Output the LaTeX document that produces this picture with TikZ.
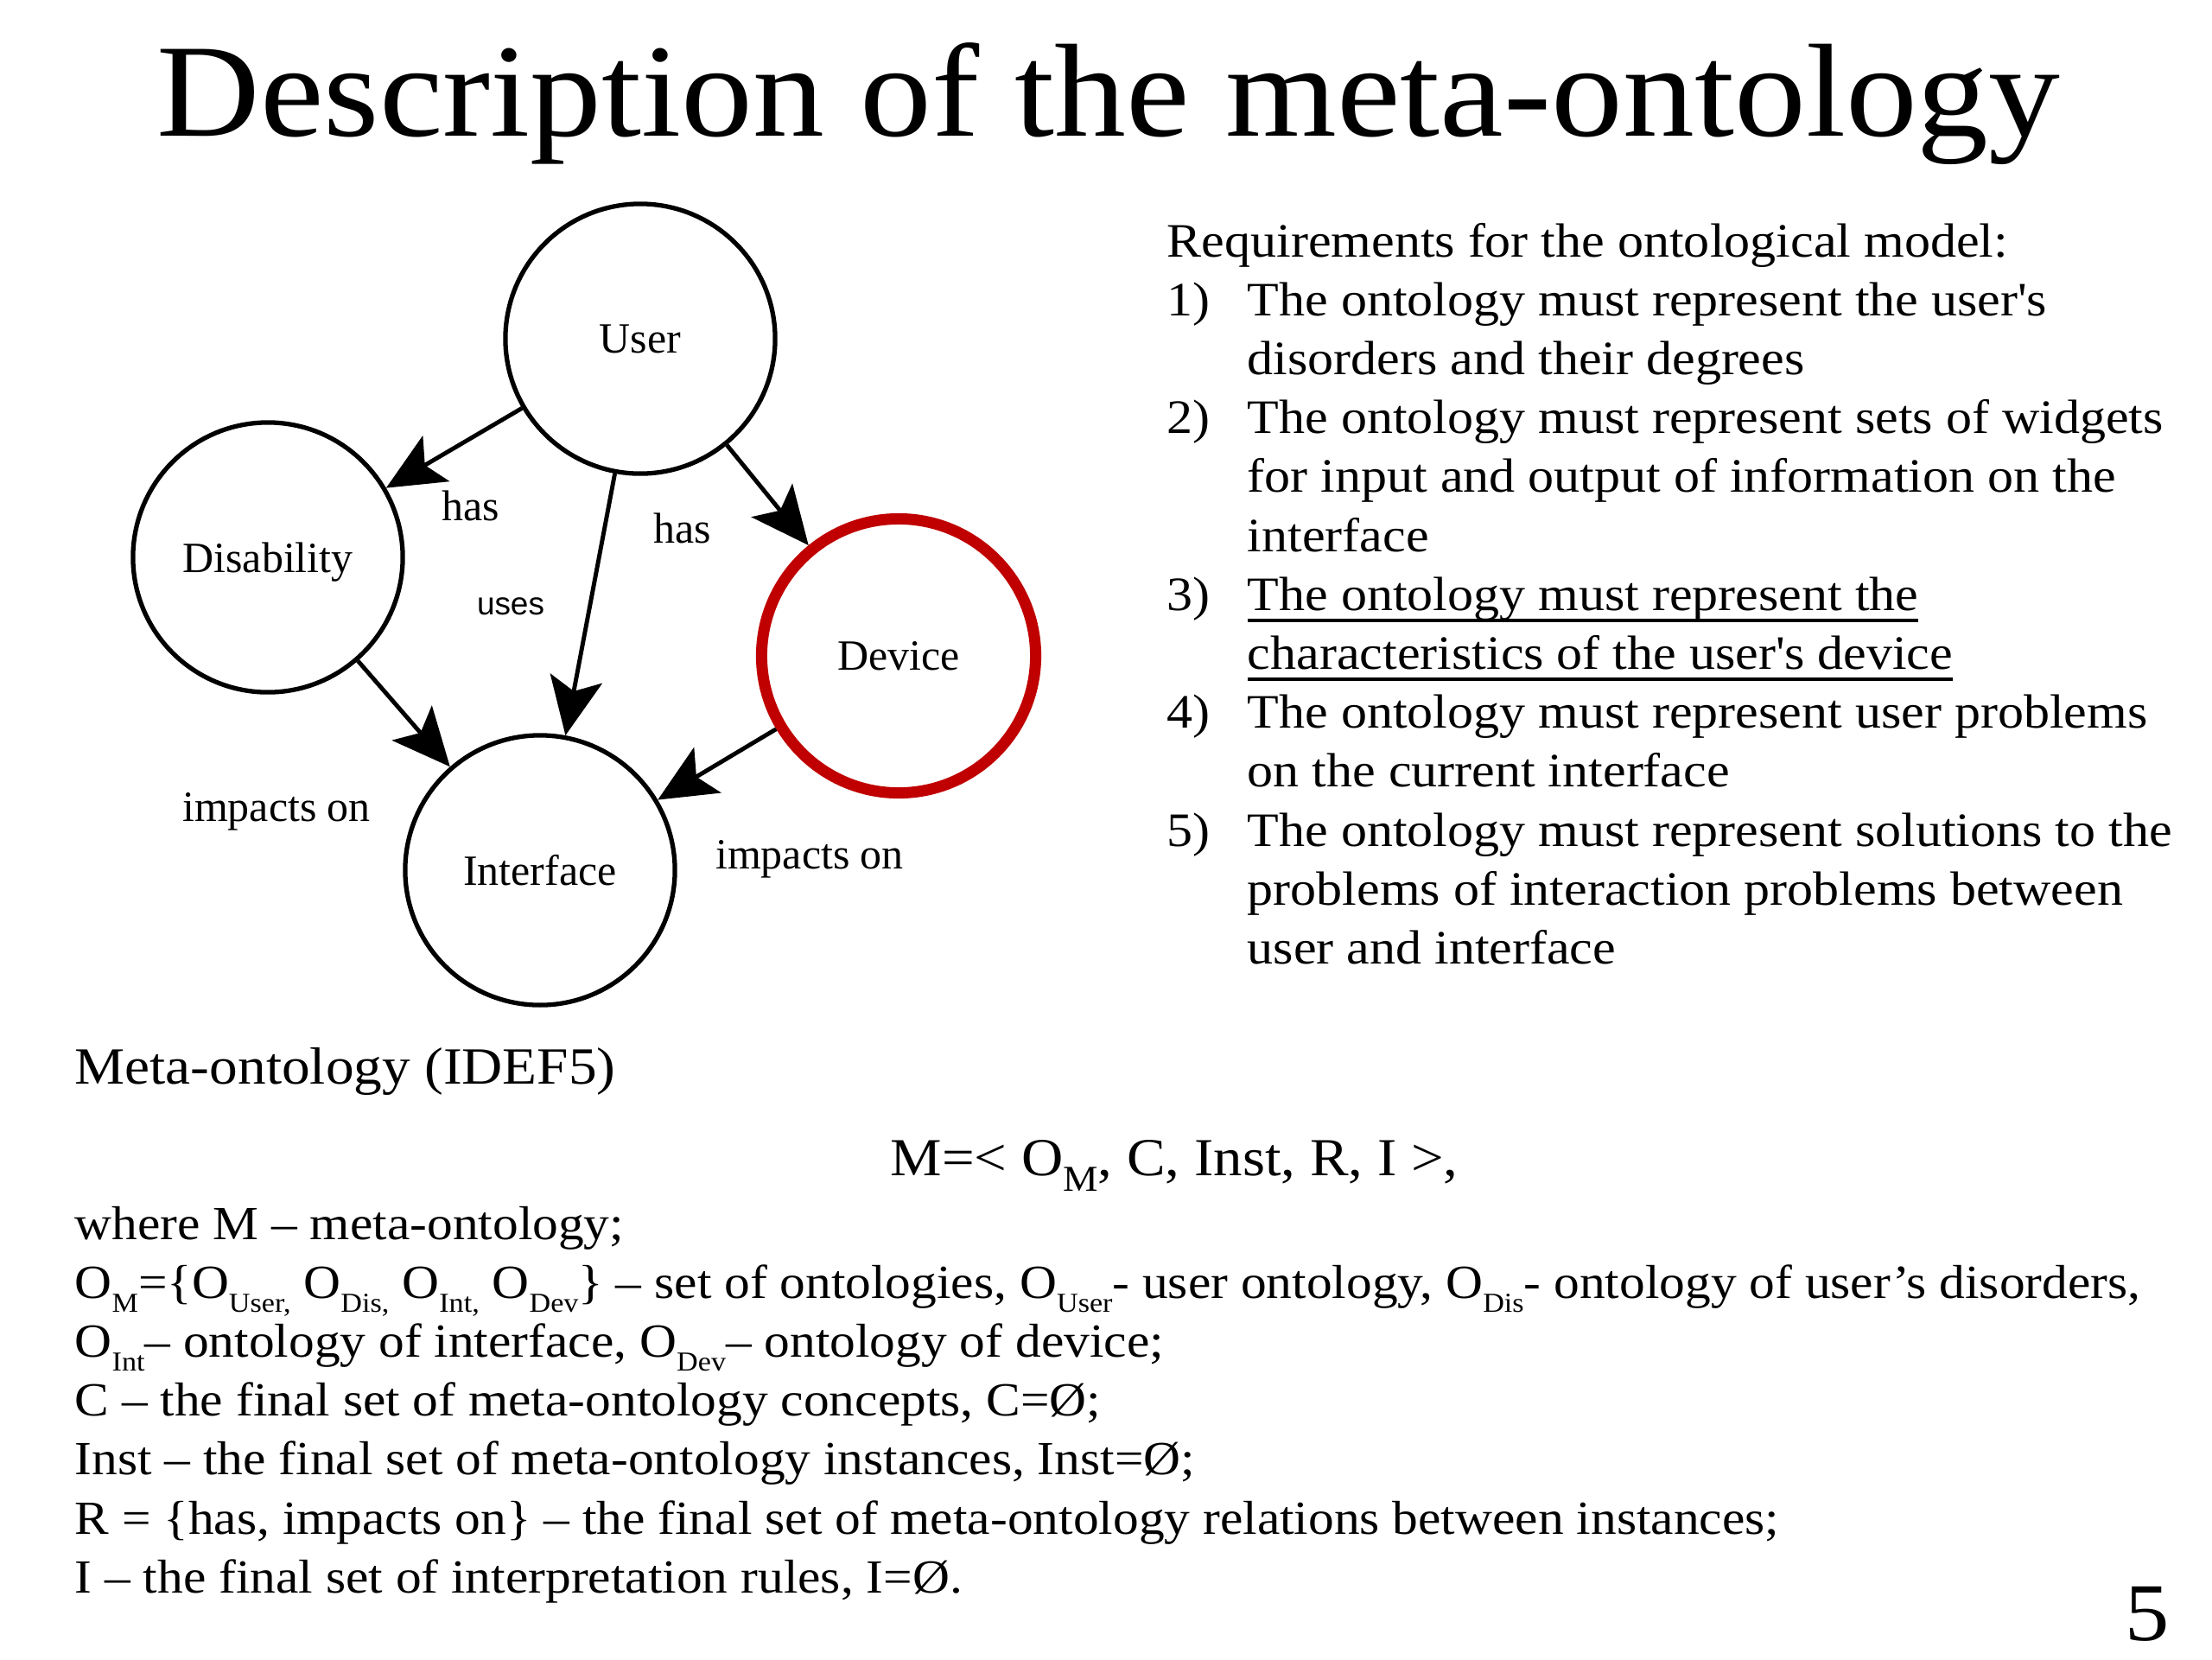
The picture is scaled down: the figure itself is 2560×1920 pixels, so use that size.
\documentclass[tikz,border=0pt]{standalone}
\usepackage{fontspec}
\setmainfont{Liberation Serif}[FakeStretch=1.08]
\newfontfamily\graphfont{Liberation Serif}
\newfontfamily\graphsans{Liberation Sans}
\usetikzlibrary{arrows.meta}
\definecolor{devred}{RGB}{192,0,0}
\newcommand{\ix}[1]{\raisebox{-0.3em}{\fontsize{9}{10}\selectfont #1}}
\newcommand{\itemno}[1]{\makebox[0.93cm][l]{#1}}
\newcommand{\uline}[1]{\setbox0\hbox{#1}\rlap{\rule[-0.25em]{\wd0}{1.1pt}}\box0}

\begin{document}
\begin{tikzpicture}[x=0.01cm,y=-0.01cm,>={Stealth[length=6.7mm,width=6.1mm,inset=1.5mm]},
  concept/.style={circle,draw,line width=1.5pt,minimum size=3.12cm,inner sep=0pt,text depth=0pt,
    font=\graphfont\fontsize{14.2}{17}\selectfont},
  device/.style={draw=devred,line width=3.7pt,minimum size=3.17cm},
  rel/.style={->,line width=1.4pt},
  rellabel/.style={inner sep=0pt,text depth=0pt,font=\graphfont\fontsize{14.2}{17}\selectfont},
  slide/.style={anchor=base west,inner sep=0pt,font=\fontsize{15.8}{19.4}\selectfont}]
  \useasboundingbox (0,0) rectangle (2560,1920);
  % title
  \node[anchor=base,inner sep=0pt,font=\fontsize{43.6}{50}\selectfont] (title) at (1283,157)
    {Description of the meta-ontology};

  % meta-ontology graph
  \node[concept] (user) at (741,392) {User};
  \node[concept] (dis) at (310,645) {Disability};
  \node[concept,device] (dev) at (1040,759) {Device};
  \node[concept] (intf) at (625,1007) {Interface};
  \draw[rel] (user) -- (dis);
  \draw[rel] (user) -- (intf);
  \draw[rel] (user) -- (dev);
  \draw[rel] (dis) -- (intf);
  \draw[rel] (dev) -- (intf);
  \node[rellabel] (has1) at (545,585) {has};
  \node[rellabel] (has2) at (790,611) {has};
  \node[rellabel,font=\graphsans\fontsize{10.5}{12}\selectfont] (uses) at (591,702) {uses};
  \node[rellabel] (imp1) at (320,934) {impacts on};
  \node[rellabel] (imp2) at (937,989) {impacts on};

  % requirements
  \foreach \txt [count=\i from 0] in {
    {Requirements for the ontological model:},
    {\itemno{1)}The ontology must represent the user\textquotesingle s},
    {\itemno{}disorders and their degrees},
    {\itemno{2)}The ontology must represent sets of widgets},
    {\itemno{}for input and output of information on the},
    {\itemno{}interface},
    {\itemno{3)}\uline{The ontology must represent the}},
    {\itemno{}\uline{characteristics of the user\textquotesingle s device}},
    {\itemno{4)}The ontology must represent user problems},
    {\itemno{}on the current interface},
    {\itemno{5)}The ontology must represent solutions to the},
    {\itemno{}problems of interaction problems between},
    {\itemno{}user and interface}}
    \node[slide] (req\i) at (1350,{297+68.2*\i}) {\txt};

  % definition
  \node[slide,font=\fontsize{17.2}{20}\selectfont] (idef) at (86,1254) {Meta-ontology (IDEF5)};
  \node[anchor=base,inner sep=0pt,font=\fontsize{17.6}{20}\selectfont] (model) at (1359,1360)
    {M=< O{\raisebox{-0.3em}{\fontsize{12}{12}\selectfont M}}, C, Inst, R, I >,};
  \foreach \txt [count=\i from 0] in {
    {where M -- meta-ontology;},
    {O\ix{M}=\{O\ix{User,} O\ix{Dis,} O\ix{Int,} O\ix{Dev}\} -- set of ontologies, O\ix{User}- user ontology, O\ix{Dis}- ontology of user’s disorders,},
    {O\ix{Int}-- ontology of interface, O\ix{Dev}-- ontology of device;},
    {C -- the final set of meta-ontology concepts, C=Ø;},
    {Inst -- the final set of meta-ontology instances, Inst=Ø;},
    {R = \{has, impacts on\} -- the final set of meta-ontology relations between instances;},
    {I -- the final set of interpretation rules, I=Ø.}}
    \node[slide,font=\fontsize{15.65}{19.4}\selectfont] (def\i) at (86,{1434+68.2*\i}) {\txt};

  \node[anchor=base east,inner sep=0pt,font=\fontsize{27}{30}\selectfont] (page) at (2511,1898) {5};
\end{tikzpicture}
\end{document}
